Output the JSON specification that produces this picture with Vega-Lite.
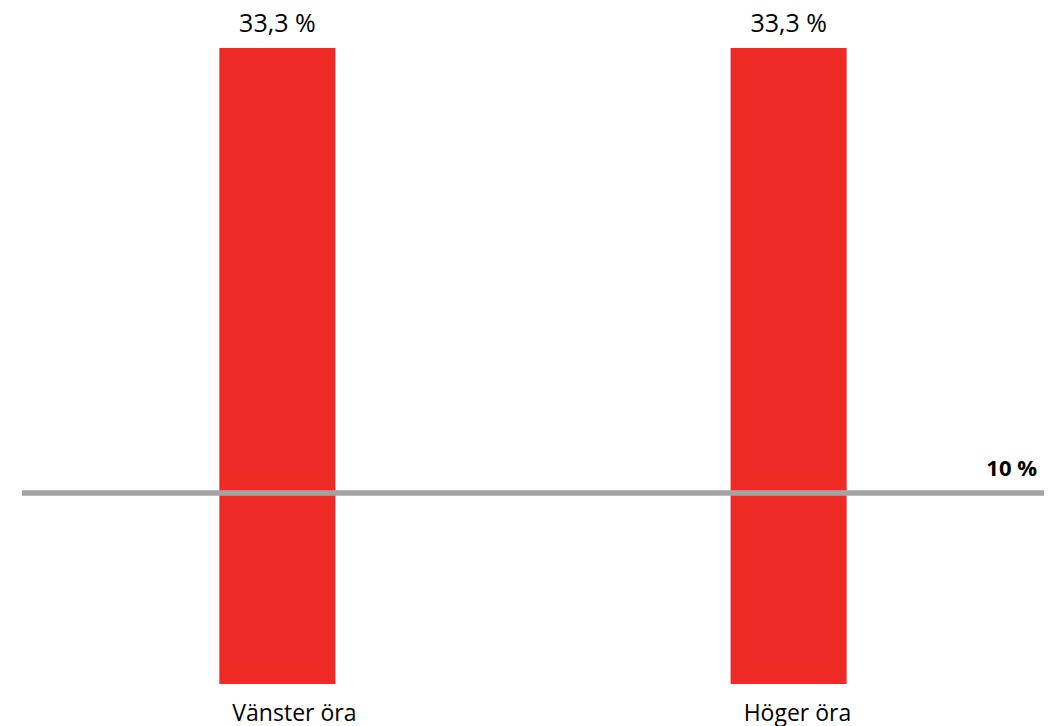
{
  "$schema": "https://vega.github.io/schema/vega-lite/v6.json",
  "width": 1022,
  "height": 684,
  "autosize": {"type": "none"},
  "padding": {"left": 22, "right": 8, "top": 0, "bottom": 42},
  "background": "white",
  "config": {"view": {"stroke": null}, "font": "Open Sans"},
  "data": {"values": [
    {"ear": "Vänster öra", "value": 33.3, "label": "33,3 %"},
    {"ear": "Höger öra", "value": 33.3, "label": "33,3 %"}
  ]},
  "encoding": {
    "x": {"field": "ear", "type": "nominal", "sort": null,
      "scale": {"paddingInner": 0.773, "paddingOuter": 0.386},
      "axis": {"title": null, "domain": false, "ticks": false, "labelAngle": 0, "labelAlign": "left", "labelOffset": -45, "labelFontSize": 23, "labelColor": "#000000", "labelPadding": 18, "labelFont": "Open Sans"}},
    "y": {"type": "quantitative",
      "scale": {"domain": [0, 35.81], "nice": false, "zero": true},
      "axis": null}
  },
  "layer": [
    {"mark": {"type": "bar", "color": "#EE2A26"},
     "encoding": {"y": {"field": "value", "type": "quantitative"}}},
    {"mark": {"type": "text", "baseline": "bottom", "dy": -11, "fontSize": 25, "color": "#000000"},
     "encoding": {"y": {"field": "value", "type": "quantitative"}, "text": {"field": "label"}}},
    {"mark": {"type": "rule", "color": "#A3A3A3", "strokeWidth": 5},
     "encoding": {"y": {"datum": 10, "type": "quantitative"}, "x": null}},
    {"data": {"values": [{"ref": 10, "t": "10 %"}]},
     "mark": {"type": "text", "align": "right", "baseline": "bottom", "dy": -12, "dx": -7, "x": {"expr": "width"}, "fontSize": 22, "fontWeight": "bold", "color": "#000000"},
     "encoding": {"x": null, "y": {"field": "ref", "type": "quantitative"}, "text": {"field": "t"}}}
  ]
}
